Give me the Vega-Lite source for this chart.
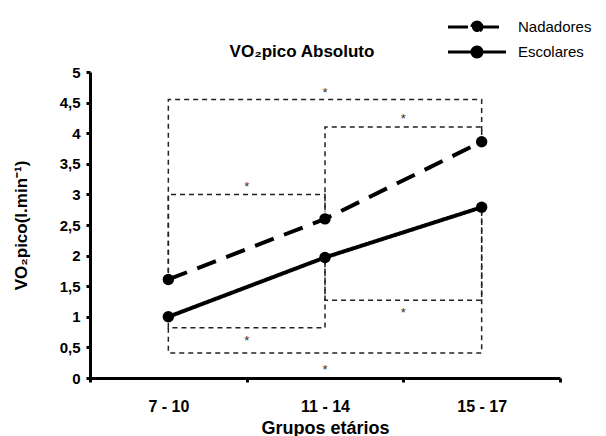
{
  "$schema": "https://vega.github.io/schema/vega-lite/v6.json",
  "width": 470,
  "height": 306,
  "autosize": {"type": "none"},
  "padding": {"left": 90, "top": 72, "right": 46, "bottom": 58},
  "background": "white",
  "config": {"view": {"stroke": null}, "font": "Liberation Sans", "axis": {"grid": false}},
  "title": {"text": "VO₂pico Absoluto", "fontSize": 17, "fontWeight": "bold", "font": "Liberation Sans", "color": "black", "dx": -23, "dy": 57, "offset": 12},
  "datasets": {
    "medias": [
      {"serie": "Nadadores", "grupo": "7 - 10", "v": 1.61},
      {"serie": "Nadadores", "grupo": "11 - 14", "v": 2.6},
      {"serie": "Nadadores", "grupo": "15 - 17", "v": 3.86},
      {"serie": "Escolares", "grupo": "7 - 10", "v": 1.0},
      {"serie": "Escolares", "grupo": "11 - 14", "v": 1.97},
      {"serie": "Escolares", "grupo": "15 - 17", "v": 2.79}
    ],
    "brackets": [
      {"id": "A", "ord": 1, "grupo": "7 - 10", "v": 1.72},
      {"id": "A", "ord": 2, "grupo": "7 - 10", "v": 4.55},
      {"id": "A", "ord": 3, "grupo": "15 - 17", "v": 4.55},
      {"id": "A", "ord": 4, "grupo": "15 - 17", "v": 3.97},
      {"id": "B", "ord": 1, "grupo": "11 - 14", "v": 2.74},
      {"id": "B", "ord": 2, "grupo": "11 - 14", "v": 4.1},
      {"id": "B", "ord": 3, "grupo": "15 - 17", "v": 4.1},
      {"id": "B", "ord": 4, "grupo": "15 - 17", "v": 3.97},
      {"id": "C", "ord": 1, "grupo": "7 - 10", "v": 1.72},
      {"id": "C", "ord": 2, "grupo": "7 - 10", "v": 3.0},
      {"id": "C", "ord": 3, "grupo": "11 - 14", "v": 3.0},
      {"id": "C", "ord": 4, "grupo": "11 - 14", "v": 2.71},
      {"id": "D", "ord": 1, "grupo": "7 - 10", "v": 0.9},
      {"id": "D", "ord": 2, "grupo": "7 - 10", "v": 0.82},
      {"id": "D", "ord": 3, "grupo": "11 - 14", "v": 0.82},
      {"id": "D", "ord": 4, "grupo": "11 - 14", "v": 1.89},
      {"id": "E", "ord": 1, "grupo": "11 - 14", "v": 1.89},
      {"id": "E", "ord": 2, "grupo": "11 - 14", "v": 1.27},
      {"id": "E", "ord": 3, "grupo": "15 - 17", "v": 1.27},
      {"id": "E", "ord": 4, "grupo": "15 - 17", "v": 2.7},
      {"id": "F", "ord": 1, "grupo": "7 - 10", "v": 0.82},
      {"id": "F", "ord": 2, "grupo": "7 - 10", "v": 0.41},
      {"id": "F", "ord": 3, "grupo": "15 - 17", "v": 0.41},
      {"id": "F", "ord": 4, "grupo": "15 - 17", "v": 2.7}
    ],
    "estrelas": [
      {"id": "A", "tipo": "central", "grupo": "11 - 14", "v": 4.7},
      {"id": "F", "tipo": "central", "grupo": "11 - 14", "v": 0.18},
      {"id": "B", "tipo": "adjacente", "grupo": "15 - 17", "v": 4.28},
      {"id": "C", "tipo": "adjacente", "grupo": "11 - 14", "v": 3.17},
      {"id": "D", "tipo": "adjacente", "grupo": "11 - 14", "v": 0.65},
      {"id": "E", "tipo": "adjacente", "grupo": "15 - 17", "v": 1.11}
    ]
  },
  "encoding": {
    "x": {
      "field": "grupo", "type": "nominal",
      "scale": {"domain": ["7 - 10", "11 - 14", "15 - 17"], "paddingInner": 0, "paddingOuter": 0},
      "axis": {
        "title": "Grupos etários", "labelAngle": 0, "tickBand": "extent",
        "domainColor": "black", "domainWidth": 3, "tickColor": "black", "tickWidth": 3, "tickSize": 4,
        "labelFont": "Liberation Sans", "labelFontWeight": "bold", "labelFontSize": 16, "labelColor": "black", "labelPadding": 16,
        "titleFont": "Liberation Sans", "titleFontSize": 18, "titleFontWeight": "bold", "titleColor": "black", "titlePadding": 5
      }
    },
    "y": {
      "field": "v", "type": "quantitative",
      "scale": {"domain": [0, 5], "nice": false},
      "axis": {
        "title": "VO₂pico(l.min⁻¹)",
        "values": [0, 0.5, 1, 1.5, 2, 2.5, 3, 3.5, 4, 4.5, 5],
        "labelExpr": "replace(format(datum.value, '~g'), '.', ',')",
        "domainColor": "black", "domainWidth": 3, "tickColor": "black", "tickWidth": 3, "tickSize": 4,
        "labelFont": "Liberation Sans", "labelFontWeight": "bold", "labelFontSize": 15, "labelColor": "black", "labelPadding": 6,
        "titleFont": "Liberation Sans", "titleFontSize": 17, "titleFontWeight": "bold", "titleColor": "black", "titlePadding": 29
      }
    }
  },
  "layer": [
    {
      "data": {"name": "brackets"},
      "mark": {"type": "line", "strokeDash": [5, 4], "strokeWidth": 1.5, "color": "#222222"},
      "encoding": {"detail": {"field": "id"}, "order": {"field": "ord", "type": "quantitative"}}
    },
    {
      "data": {"name": "estrelas"},
      "transform": [{"filter": "datum.tipo == 'central'"}],
      "mark": {"type": "text", "text": "*", "fontSize": 13, "color": "#333333", "baseline": "middle", "dy": 3},
      "encoding": {}
    },
    {
      "data": {"name": "estrelas"},
      "transform": [{"filter": "datum.tipo == 'adjacente'"}],
      "mark": {"type": "text", "text": "*", "fontSize": 13, "color": "#333333", "baseline": "middle", "dy": 3},
      "encoding": {
        "x": {"field": "grupo", "type": "nominal", "bandPosition": 0}
      }
    },
    {
      "data": {"name": "medias"},
      "mark": {"type": "line", "strokeWidth": 4, "color": "black"},
      "encoding": {
        "strokeDash": {
          "field": "serie", "type": "nominal",
          "scale": {"domain": ["Nadadores", "Escolares"], "range": [[20, 11], [1, 0]]},
          "legend": {
            "title": null, "orient": "none", "legendX": 375.5, "legendY": -56.5,
            "symbolType": "M-2.9,0L2.9,0M-0.5,0A0.5,0.5,0,1,1,0.5,0A0.5,0.5,0,1,1,-0.5,0Z",
            "symbolSize": 400, "symbolStrokeWidth": 3, "symbolStrokeColor": "black", "symbolFillColor": "black",
            "labelFont": "Liberation Sans", "labelFontSize": 15, "labelColor": "black", "labelOffset": 29.5, "rowPadding": 2, "padding": 0,
            "encode": {"symbols": {"update": {
              "fill": {"value": "black"}, "stroke": {"value": "black"}, "opacity": {"value": 1},
              "strokeDash": {"signal": "datum.value == 'Nadadores' ? [20, 20] : [1, 0]"}
            }}}
          }
        }
      }
    },
    {
      "data": {"name": "medias"},
      "mark": {"type": "point", "filled": true, "size": 130, "color": "black", "opacity": 1},
      "encoding": {"shape": {"value": "circle"}}
    }
  ]
}
